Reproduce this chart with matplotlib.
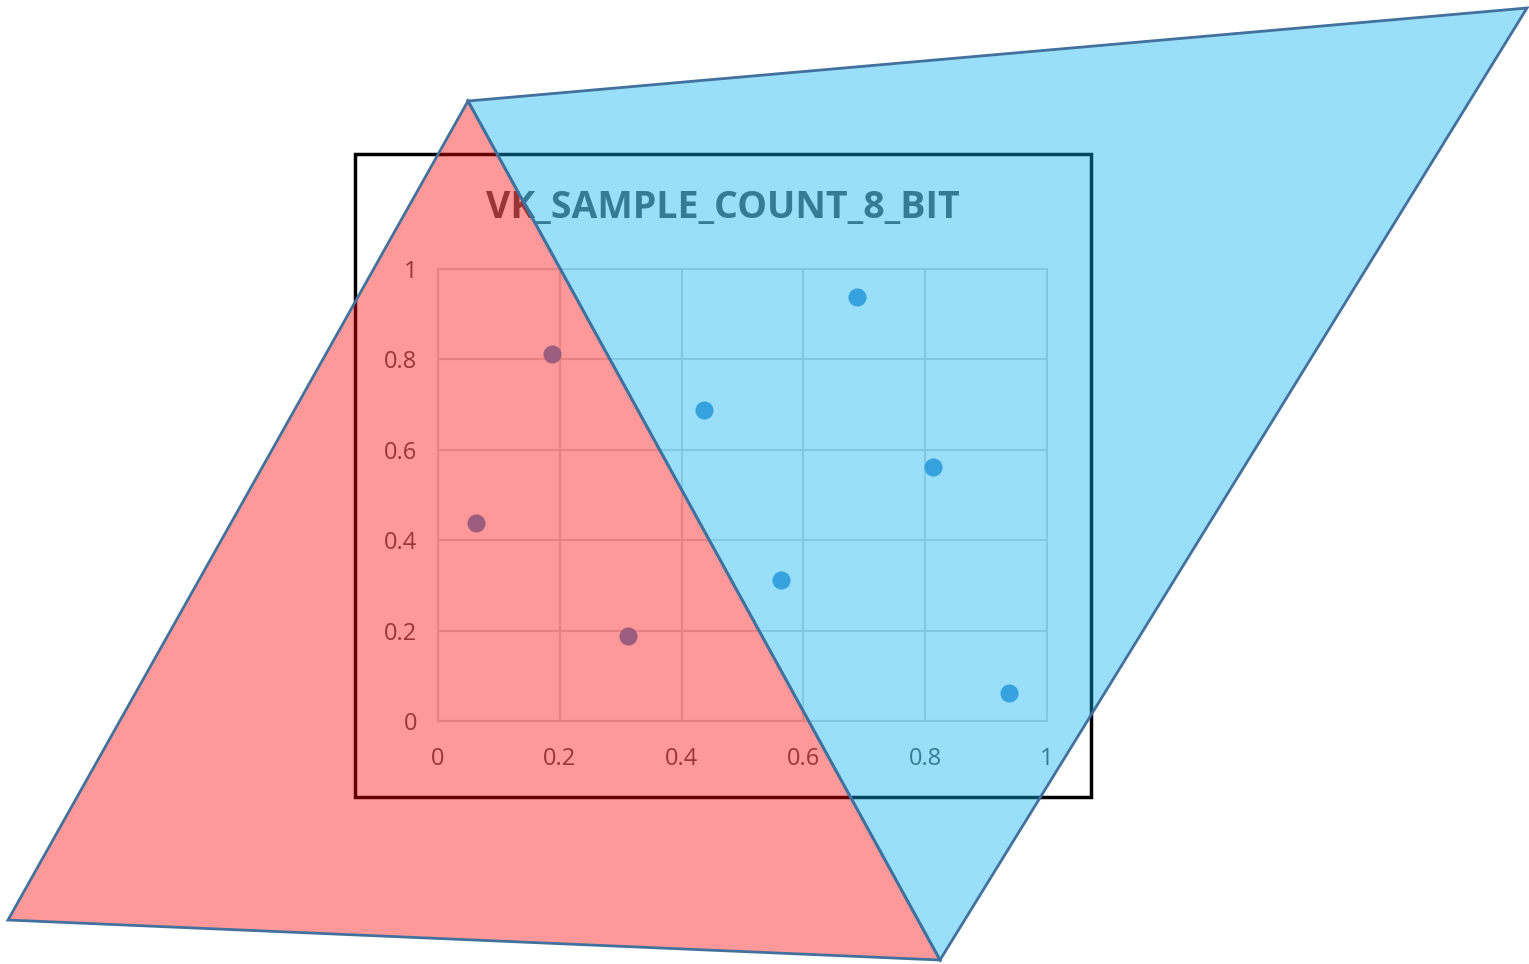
import numpy as np
import matplotlib.pyplot as plt
from matplotlib.patches import Polygon, Rectangle

# sample positions (VK_SAMPLE_COUNT_8_BIT)
sample_x = [0.5625, 0.4375, 0.8125, 0.3125, 0.1875, 0.0625, 0.6875, 0.9375]
sample_y = [0.3125, 0.6875, 0.5625, 0.1875, 0.8125, 0.4375, 0.9375, 0.0625]
ticks = [0, 0.2, 0.4, 0.6, 0.8, 1]
tick_labels = ['0', '0.2', '0.4', '0.6', '0.8', '1']
title = 'VK_SAMPLE_COUNT_8_BIT'

# overlay shapes in image pixel coords
red_tri = [(468, 101), (8, 920), (940, 960)]
blue_tri = [(468, 101), (1527, 8), (940, 960)]

W, H = 1529, 964
fig = plt.figure(figsize=(W / 100, H / 100), dpi=100)
fig.patch.set_facecolor('white')

grey = '#595959'
gridc = '#d9d9d9'

# scatter chart
ax = fig.add_axes([438 / W, (H - 721) / H, 609 / W, 452 / H])
ax.scatter(sample_x, sample_y, s=170, color='#5b9bd5', zorder=3, linewidths=0)
ax.set_xlim(0, 1)
ax.set_ylim(0, 1)
ax.set_xticks(ticks)
ax.set_yticks(ticks)
ax.set_xticklabels(tick_labels)
ax.set_yticklabels(tick_labels)
ax.grid(True, color=gridc, linewidth=1.5)
ax.set_axisbelow(True)
for s in ax.spines.values():
    s.set_color(gridc)
    s.set_linewidth(1.5)
ax.tick_params(length=0, labelsize=17, labelcolor=grey)
ax.tick_params(axis='x', pad=19)
ax.tick_params(axis='y', pad=15)
for lab in ax.get_xticklabels() + ax.get_yticklabels():
    lab.set_family('Open Sans')

# overlay for frame, title and triangles
ov = fig.add_axes([0, 0, 1, 1])
ov.set_xlim(0, W)
ov.set_ylim(H, 0)
ov.axis('off')
ov.patch.set_alpha(0)
ov.text(723, 208, title, fontsize=27, fontweight='bold', color=grey,
        family='Open Sans', ha='center', va='center', zorder=0.5)
ov.add_patch(Rectangle((355, 154), 736, 643, fill=False, edgecolor='black',
                       linewidth=2.5, zorder=0.6))
ov.add_patch(Polygon(red_tri, closed=True, facecolor=(1, 0, 0, 0.4),
                     edgecolor='#41719c', linewidth=2, zorder=1))
ov.add_patch(Polygon(blue_tri, closed=True, facecolor=(0, 0.69, 0.94, 0.4),
                     edgecolor='#41719c', linewidth=2, zorder=1))

fig.savefig('out.png', dpi=100)
